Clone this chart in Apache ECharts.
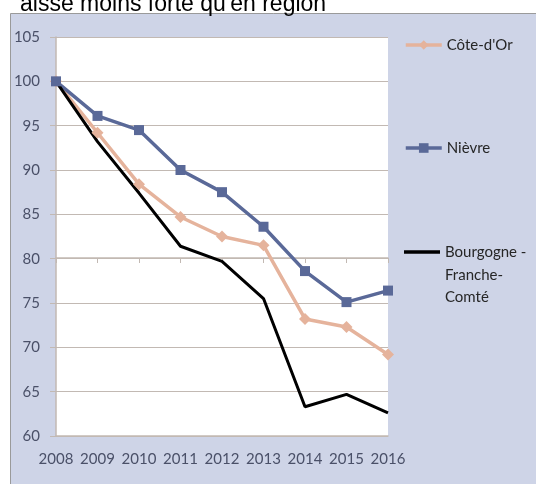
<!DOCTYPE html>
<html>
<head>
<meta charset="utf-8">
<script src="https://cdn.jsdelivr.net/npm/echarts@6/dist/echarts.min.js"></script>
<style>
  html, body { margin: 0; padding: 0; background: #fff; }
  #chart { width: 536px; height: 484px; }
</style>
</head>
<body>
<div id="chart"></div>
<script>
var years = ['2008', '2009', '2010', '2011', '2012', '2013', '2014', '2015', '2016'];
var coteDOr = [100, 94.2, 88.4, 84.7, 82.5, 81.5, 73.2, 72.3, 69.2];
var nievre = [100, 96.1, 94.5, 90.0, 87.5, 83.6, 78.6, 75.1, 76.4];
var bourgogne = [100, 93.2, 87.4, 81.4, 79.7, 75.5, 63.3, 64.7, 62.6];

var gridColor = '#c2b9b3';
var labelColor = '#4a5068';
var legendColor = '#262626';
var chart = echarts.init(document.getElementById('chart'));

// one legend per item so each can sit at its own height
function legendAt(item, top, iconH) {
  return {
    data: [item],
    orient: 'vertical',
    left: 404,
    top: top,
    padding: 0,
    itemWidth: 36,
    itemHeight: iconH,
    selectedMode: false,
    lineStyle: { width: 3.5 },
    formatter: function (n) {
      return n === 'Bourgogne - Franche-Comté' ? 'Bourgogne -' : n;
    },
    textStyle: { color: legendColor, fontFamily: 'Lato', fontSize: 15, lineHeight: 22 }
  };
}

var option = {
  backgroundColor: '#fff',
  animation: false,
  graphic: [
    {
      type: 'rect',
      shape: { x: 10.5, y: 13.5, width: 540, height: 480 },
      style: { fill: '#ced4e7', stroke: '#9a9a9a', lineWidth: 1 },
      z: -10
    },
    {
      type: 'text',
      style: {
        text: "aisse moins forte qu'en région",
        x: 20, y: 5,
        verticalAlign: 'middle',
        font: '23px "Liberation Sans", Arial, sans-serif',
        fill: '#000'
      }
    },
    {
      type: 'text',
      style: {
        text: 'Franche-\nComté',
        x: 445, y: 264,
        font: '15px Lato',
        lineHeight: 22,
        fill: legendColor
      }
    }
  ],
  grid: {
    left: 56, right: 148, top: 37, bottom: 48,
    show: true, backgroundColor: '#fff', borderWidth: 0
  },
  legend: [
    legendAt("Côte-d'Or", 34, 12),
    legendAt('Nièvre', 137, 12),
    legendAt({ name: 'Bourgogne - Franche-Comté', icon: 'rect' }, 241, 3.5)
  ],
  xAxis: [
    {
      type: 'category',
      data: years,
      boundaryGap: false,
      position: 'bottom',
      axisLine: { lineStyle: { color: gridColor, width: 1.5 } },
      axisTick: { show: false },
      axisLabel: { color: labelColor, fontFamily: 'Lato', fontSize: 15, margin: 16, interval: 0 },
      splitLine: { show: false }
    },
    {
      // Excel draws the category axis line across at 80
      type: 'category',
      data: years,
      boundaryGap: false,
      position: 'bottom',
      offset: -178,
      axisLine: { lineStyle: { color: gridColor, width: 1.5 } },
      axisTick: { show: true, length: 5, lineStyle: { color: gridColor } },
      axisLabel: { show: false },
      splitLine: { show: false }
    }
  ],
  yAxis: {
    type: 'value',
    min: 60,
    max: 105,
    interval: 5,
    axisLine: { show: true, lineStyle: { color: gridColor, width: 1.5 } },
    axisTick: { show: true, length: 6, lineStyle: { color: gridColor } },
    axisLabel: { color: labelColor, fontFamily: 'Lato', fontSize: 15, margin: 16 },
    splitLine: { lineStyle: { color: gridColor, width: 1.2 } }
  },
  series: [
    {
      name: "Côte-d'Or",
      type: 'line',
      data: coteDOr,
      symbol: 'diamond',
      symbolSize: 12,
      lineStyle: { color: '#e5b39c', width: 3.5 },
      itemStyle: { color: '#e5b39c' }
    },
    {
      name: 'Nièvre',
      type: 'line',
      data: nievre,
      symbol: 'rect',
      symbolSize: 10,
      lineStyle: { color: '#5a6998', width: 3.5 },
      itemStyle: { color: '#5a6998' }
    },
    {
      name: 'Bourgogne - Franche-Comté',
      type: 'line',
      data: bourgogne,
      symbol: 'none',
      lineStyle: { color: '#000', width: 3 },
      itemStyle: { color: '#000' }
    }
  ]
};

chart.setOption(option);
</script>
</body>
</html>
